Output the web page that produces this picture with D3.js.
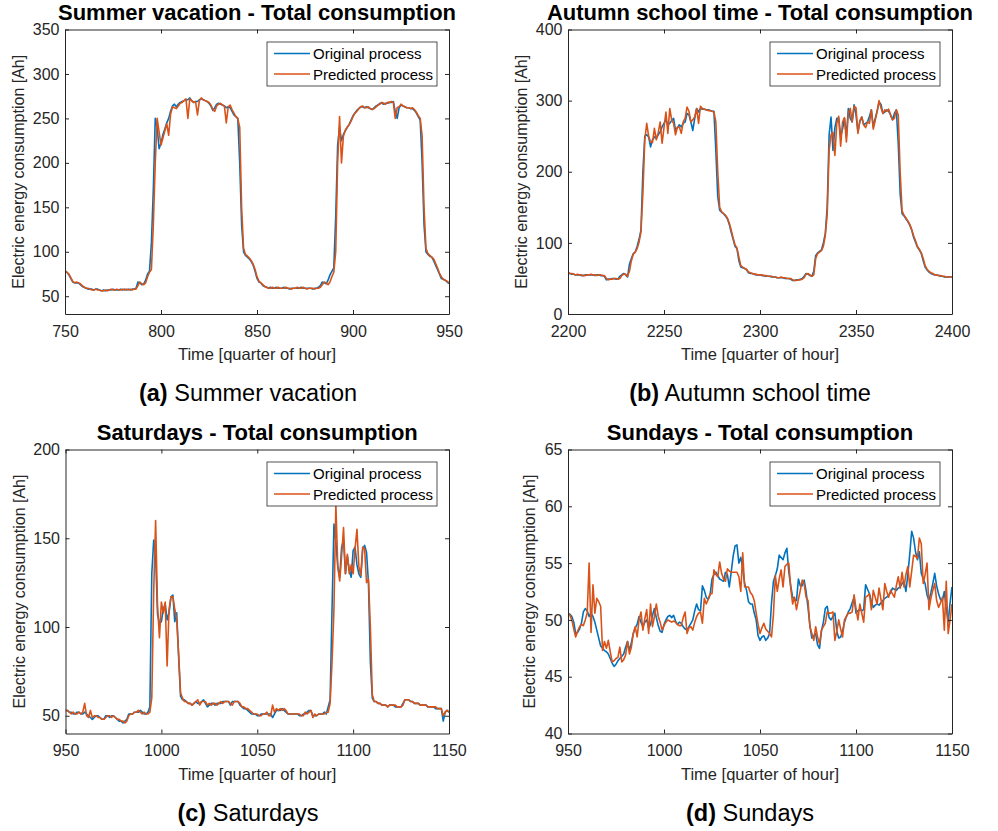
<!DOCTYPE html>
<html>
<head>
<meta charset="utf-8">
<script src="https://cdn.jsdelivr.net/npm/d3@7"></script>
<style>
  body { margin: 0; background: #fff; }
  svg { display: block; }
</style>
</head>
<body>
<svg id="chart" width="998" height="831"></svg>
<script>
// ---- Data: total consumption per quarter hour (one value per time step) ----
const summerStart = 750;
const summerOriginal = [
  78,77,74,70,66,65,65,65,63,61, 60,59,58,58,58,57,58,58,57,56,
  57,56,57,57,57,58,57,57,57,58, 57,58,57,58,57,58,58,59,66,65,
  63,64,68,75,78,110,170,250,240,216, 222,232,238,245,250,258,264,266,263,266,
  268,269,270,271,271,273,270,268,269,269, 271,272,271,270,269,267,264,259,262,266,
  267,266,265,264,262,263,262,258,254,252, 250,200,130,100,96,94,92,89,85,78,
  70,66,65,62,61,60,59,60,59,59, 60,59,59,59,60,59,59,58,59,59,
  59,59,59,60,59,59,59,59,59,58, 59,59,60,62,66,65,64,68,74,78,
  82,140,220,240,225,232,236,240,243,248, 253,256,259,261,263,263,262,263,262,261,
  260,262,264,265,267,267,266,267,267,268, 268,269,258,250,262,265,264,263,262,262,
  261,261,259,256,252,248,200,130,100,97, 95,94,90,85,80,75,70,69,68,66,
  64
];
const summerPredicted = [
  79,77,75,71,67,65,66,65,64,62, 60,59,59,58,57,57,58,57,57,56,
  56,57,56,57,58,57,57,58,57,57, 58,57,58,57,58,57,58,58,62,66,
  64,63,65,72,77,80,130,200,250,235, 220,228,236,244,231,255,263,262,261,264,
  267,268,270,272,250,272,270,268,269,254, 270,273,271,270,269,268,265,260,258,264,
  266,267,265,264,245,263,265,260,256,252, 250,240,150,104,97,95,93,90,86,80,
  72,67,65,63,61,60,59,59,60,59, 59,60,59,59,59,60,59,59,58,59,
  59,60,59,59,60,59,58,59,59,59, 58,59,59,60,63,66,65,63,66,72,
  77,100,200,252,200,230,237,240,243,247, 252,256,258,261,263,264,262,262,263,261,
  260,261,263,265,266,268,267,266,268,268, 269,268,250,262,263,266,264,263,262,262,
  261,262,260,257,253,250,230,150,104,98, 96,94,92,87,82,76,72,69,68,67,
  65
];

const autumnStart = 2200;
const autumnOriginal = [
  58,57,56,56,55,55,55,54,54,55, 55,55,55,55,54,55,55,54,54,53,
  48,49,49,50,50,49,49,53,55,57, 55,52,70,78,85,87,95,105,118,200,
  250,252,249,235,245,249,247,252,256,263, 268,273,266,268,272,275,258,262,266,263,
  268,270,282,280,270,258,275,289,284,289, 288,288,287,287,286,285,285,230,165,146,
  143,141,138,134,126,115,105,95,92,75, 66,65,64,62,58,57,57,56,55,55,
  55,54,54,53,53,53,52,52,52,51, 51,51,51,50,50,50,49,47,47,48,
  48,49,50,53,57,56,54,53,60,82, 86,88,90,100,113,150,252,277,230,262,
  275,275,250,260,275,250,289,275,270,294, 280,256,270,277,266,268,270,278,287,263,
  275,285,298,295,282,284,287,285,280,273, 282,287,240,169,141,138,134,130,125,118,
  108,101,94,90,85,75,66,62,59,57, 56,55,55,54,53,53,52,52,52,52,
  52
];
const autumnPredicted = [
  58,57,57,56,55,56,55,55,54,54, 55,55,56,55,55,54,55,55,54,54,
  50,48,49,49,50,50,49,50,54,56, 56,53,60,75,84,87,92,101,115,170,
  245,268,250,242,241,261,245,255,270,240, 262,284,254,289,273,268,252,263,263,254,
  270,275,291,285,270,273,277,289,268,292, 289,288,287,286,286,285,284,270,200,150,
  144,141,139,135,128,118,107,97,93,80, 68,66,64,63,59,58,57,56,56,55,
  55,55,54,54,53,53,53,52,52,51, 51,52,51,51,50,50,50,48,47,47,
  48,48,49,51,56,57,55,53,55,78, 85,87,89,95,110,140,230,252,255,223,
  268,278,236,270,276,242,282,289,270,292, 290,254,272,277,266,262,270,268,287,260,
  272,285,300,290,282,287,285,288,280,273, 275,287,280,200,145,139,135,131,126,119,
  110,103,95,91,86,78,68,63,60,58, 57,55,55,54,54,53,53,52,52,52,
  52
];

const saturdayStart = 950;
const saturdayOriginal = [
  53,53,52,52,51,51,52,52,51,51, 52,51,50,49,48,49,50,50,49,48,
  48,50,50,49,50,50,49,48,47,47, 46,47,48,51,51,51,52,52,52,53,
  52,51,51,52,55,130,149,140,107,102, 103,110,113,104,108,117,118,103,108,83,
  61,59,59,58,57,57,56,57,58,57, 57,58,59,57,55,56,57,57,56,57,
  57,57,58,58,58,58,56,58,58,58, 58,56,55,54,54,53,52,51,51,51,
  50,50,51,51,51,51,51,51,49,51, 53,53,53,54,53,52,51,51,51,51,
  51,51,50,50,51,51,52,53,53,50, 50,50,51,51,51,52,51,55,59,110,
  158,148,134,128,145,149,130,140,132,128, 143,145,135,130,128,144,146,142,125,80,
  60,58,58,57,57,56,56,56,55,56, 56,56,55,55,55,55,57,59,59,59,
  58,58,57,57,57,56,56,56,56,55, 55,55,55,54,54,54,54,47,52,53,
  52
];
const saturdayPredicted = [
  53,53,52,51,52,51,51,52,51,52, 57,50,49,53,49,50,50,49,49,48,
  48,49,50,50,49,50,49,48,48,47, 47,46,47,50,51,51,52,52,53,52,
  51,52,51,51,52,60,120,160,112,94, 114,108,114,78,110,117,117,110,104,85,
  63,60,58,58,57,57,56,57,58,59, 56,58,58,58,56,57,56,57,57,56,
  57,58,57,58,58,58,57,56,58,58, 58,57,55,55,54,54,53,52,51,51,
  51,50,50,51,51,52,50,50,56,52, 54,53,54,53,54,53,51,51,51,51,
  51,51,51,50,50,52,51,52,53,49, 51,50,51,51,51,51,52,52,57,80,
  110,169,134,126,140,156,130,141,130,135, 130,144,155,134,129,145,144,125,127,100,
  62,58,58,57,57,56,56,56,55,56, 56,56,56,55,55,55,56,59,59,59,
  58,58,57,57,57,56,56,56,56,55, 55,55,55,55,54,54,54,50,52,53,
  52
];

const sundayStart = 950;
const sundayOriginal = [
  50.6,50.5,50.3,49.8,48.8,48.9,49.2,49.7,50.7,51.0, 50.8,50.3,50.6,50.3,49.8,49.1,48.4,47.7,47.5,47.3,
  47.2,47.0,46.6,46.2,45.9,46.1,46.4,46.6,46.8,47.0, 47.6,48.1,47.3,48.0,48.8,49.3,49.6,50.3,49.8,49.4,
  49.8,50.0,49.3,49.6,50.4,51.0,50.2,49.5,49.0,48.9, 49.6,50.0,50.3,50.4,50.2,50.4,49.9,49.6,49.8,49.7,
  49.4,49.2,49.1,49.4,49.7,50.0,50.8,51.4,50.9,50.8, 53.0,52.6,52.0,51.8,52.2,53.6,54.0,54.2,53.9,53.6,
  53.5,53.4,54.2,54.0,52.9,54.2,55.6,56.5,56.6,55.0, 55.5,54.5,53.2,52.6,51.6,51.4,51.4,50.6,50.0,48.6,
  48.2,48.5,48.6,48.2,48.4,48.8,51.5,53.4,53.9,54.5, 55.7,55.5,55.3,55.9,56.3,54.2,53.0,52.0,51.8,51.7,
  53.6,53.0,53.0,53.5,52.5,51.1,49.5,48.4,48.6,48.8, 47.8,47.5,49.0,49.8,51.0,51.2,50.2,50.0,50.3,50.6,
  49.0,48.4,48.5,49.0,49.8,50.3,50.7,51.0,51.5,52.0, 50.6,50.8,50.9,50.8,50.9,53.1,52.7,52.3,51.6,51.1,
  51.3,51.4,51.3,51.5,51.7,51.9,52.0,52.2,52.4,52.8, 52.7,52.6,52.8,52.9,53.2,53.4,52.5,54.0,55.8,57.8,
  57.2,56.0,55.3,56.0,54.1,53.6,53.2,52.2,51.7,52.4, 53.2,54.1,53.0,52.3,51.8,51.7,52.5,51.0,49.8,51.5,
  52.9
];
const sundayPredicted = [
  50.6,50.4,50.0,49.2,48.5,49.0,49.4,49.6,49.5,50.0, 50.6,55.0,48.9,53.1,50.6,51.9,51.6,51.2,47.3,48.1,
  47.5,48.2,47.2,46.3,46.4,46.6,46.7,47.6,46.3,46.5, 46.9,48.1,47.0,47.6,48.8,49.4,48.5,50.0,50.7,49.1,
  50.1,50.9,48.8,51.4,49.4,50.3,51.4,50.3,49.8,49.1, 49.5,49.8,50.0,49.9,49.8,49.9,49.8,49.6,49.5,49.5,
  50.2,50.7,48.8,49.3,49.4,49.1,49.8,50.3,50.6,50.7, 49.7,51.9,51.4,51.8,52.3,52.3,54.4,54.0,53.8,55.1,
  54.1,53.6,53.4,54.5,54.3,54.2,54.2,54.2,54.2,53.8, 52.5,55.9,52.9,52.9,52.9,52.4,52.2,51.7,50.6,49.6,
  48.8,49.3,49.7,49.2,49.0,48.8,48.5,50.5,53.9,52.5, 53.6,54.4,52.9,54.7,54.9,55.0,52.8,51.4,52.0,50.9,
  51.8,52.6,53.5,53.2,52.0,51.7,49.4,48.8,48.2,49.4, 48.5,47.9,49.1,49.4,49.7,50.7,50.6,50.6,50.7,48.2,
  49.0,50.0,49.2,48.5,50.0,50.3,50.6,50.6,50.7,52.2, 51.0,50.0,51.4,50.6,49.8,52.0,52.1,52.3,50.9,52.6,
  52.0,51.4,52.8,51.8,50.9,53.2,52.5,52.0,52.6,52.3, 52.0,53.0,53.8,52.8,54.2,52.9,54.0,54.7,52.9,54.3,
  55.7,55.6,55.4,57.2,56.7,53.2,54.0,55.0,50.9,51.9, 52.6,53.2,51.7,51.1,51.5,52.0,49.1,53.4,48.8,50.0,
  51.4
];

// ---- Axis settings ----
const summerXDomain = [750, 950],   summerYDomain = [30, 350];
const autumnXDomain = [2200, 2400], autumnYDomain = [0, 400];
const saturdayXDomain = [950, 1150], saturdayYDomain = [40, 200];
const sundayXDomain = [950, 1150],  sundayYDomain = [40, 65];
const summerXTicks = [750, 800, 850, 900, 950];
const summerYTicks = [50, 100, 150, 200, 250, 300, 350];
const autumnXTicks = [2200, 2250, 2300, 2350, 2400];
const autumnYTicks = [0, 100, 200, 300, 400];
const saturdayXTicks = [950, 1000, 1050, 1100, 1150];
const saturdayYTicks = [50, 100, 150, 200];
const sundayXTicks = [950, 1000, 1050, 1100, 1150];
const sundayYTicks = [40, 45, 50, 55, 60, 65];

const seriesNames = ["Original process", "Predicted process"];
const seriesColors = ["#0072BD", "#D95319"];

// ---- Layout ----
const FONT = '"Liberation Sans", Arial, Helvetica, sans-serif';
const INK = "#262626";
const plainNumber = d3.format("d");

const panels = [
  { id: "a", title: "Summer vacation - Total consumption", caption: "Summer vacation",
    start: summerStart, series: [summerOriginal, summerPredicted],
    xDomain: summerXDomain, yDomain: summerYDomain, xTicks: summerXTicks, yTicks: summerYTicks,
    left: 65, right: 449, top: 29.5, bottom: 314, cx: 248, ylabelOff: 41 },
  { id: "b", title: "Autumn school time - Total consumption", caption: "Autumn school time",
    start: autumnStart, series: [autumnOriginal, autumnPredicted],
    xDomain: autumnXDomain, yDomain: autumnYDomain, xTicks: autumnXTicks, yTicks: autumnYTicks,
    left: 568, right: 952, top: 29.5, bottom: 314, cx: 750, ylabelOff: 41 },
  { id: "c", title: "Saturdays - Total consumption", caption: "Saturdays",
    start: saturdayStart, series: [saturdayOriginal, saturdayPredicted],
    xDomain: saturdayXDomain, yDomain: saturdayYDomain, xTicks: saturdayXTicks, yTicks: saturdayYTicks,
    left: 65.5, right: 449, top: 449.5, bottom: 733.5, cx: 248, ylabelOff: 41 },
  { id: "d", title: "Sundays - Total consumption", caption: "Sundays",
    start: sundayStart, series: [sundayOriginal, sundayPredicted],
    xDomain: sundayXDomain, yDomain: sundayYDomain, xTicks: sundayXTicks, yTicks: sundayYTicks,
    left: 568, right: 952, top: 449.5, bottom: 733.5, cx: 750, ylabelOff: 33 }
];

const svg = d3.select("#chart");

function styleAxis(g) {
  g.attr("font-family", FONT).attr("font-size", 16);
  g.selectAll(".domain").attr("stroke", INK).attr("stroke-width", 1);
  g.selectAll(".tick line").attr("stroke", INK).attr("stroke-width", 1);
  g.selectAll(".tick text").attr("fill", INK);
}

panels.forEach(p => {
  const g = svg.append("g");
  const x = d3.scaleLinear().domain(p.xDomain).range([p.left, p.right]);
  const y = d3.scaleLinear().domain(p.yDomain).range([p.bottom, p.top]);

  // clip the series to the plotting area
  const clipId = "clip-" + p.id;
  svg.append("defs").append("clipPath").attr("id", clipId)
    .append("rect").attr("x", p.left).attr("y", p.top)
    .attr("width", p.right - p.left).attr("height", p.bottom - p.top);

  const line = d3.line().x((d, i) => x(p.start + i)).y(d => y(d));
  const lines = g.append("g").attr("clip-path", `url(#${clipId})`);
  p.series.forEach((s, k) => {
    lines.append("path").datum(s)
      .attr("d", line).attr("fill", "none")
      .attr("stroke", seriesColors[k]).attr("stroke-width", 1.6)
      .attr("stroke-linejoin", "round");
  });

  // axes (ticks point inward, mirrored on top and right)
  g.append("g").attr("transform", `translate(0,${p.bottom})`)
    .call(d3.axisBottom(x).tickValues(p.xTicks).tickFormat(plainNumber)
      .tickSize(-4).tickSizeOuter(0).tickPadding(11.5))
    .call(styleAxis);
  g.append("g").attr("transform", `translate(0,${p.top})`)
    .call(d3.axisTop(x).tickValues(p.xTicks).tickSize(-4).tickSizeOuter(0).tickFormat(() => ""))
    .call(styleAxis);
  g.append("g").attr("transform", `translate(${p.left},0)`)
    .call(d3.axisLeft(y).tickValues(p.yTicks).tickFormat(plainNumber)
      .tickSize(-4).tickSizeOuter(0).tickPadding(5.5))
    .call(styleAxis);
  g.append("g").attr("transform", `translate(${p.right},0)`)
    .call(d3.axisRight(y).tickValues(p.yTicks).tickSize(-4).tickSizeOuter(0).tickFormat(() => ""))
    .call(styleAxis);

  // title
  g.append("text")
    .attr("x", (p.left + p.right) / 2).attr("y", p.top - 9.5)
    .attr("text-anchor", "middle").attr("font-family", FONT)
    .attr("font-size", 22).attr("font-weight", "bold").attr("fill", "#000")
    .text(p.title);

  // axis labels
  g.append("text")
    .attr("x", (p.left + p.right) / 2).attr("y", p.bottom + 46)
    .attr("text-anchor", "middle").attr("font-family", FONT)
    .attr("font-size", 16.5).attr("fill", INK)
    .text("Time [quarter of hour]");
  g.append("text")
    .attr("transform", `translate(${p.left - p.ylabelOff},${(p.top + p.bottom) / 2}) rotate(-90)`)
    .attr("text-anchor", "middle").attr("font-family", FONT)
    .attr("font-size", 16).attr("fill", INK)
    .text("Electric energy consumption [Ah]");

  // legend
  const lw = 170, lh = 44;
  const lx = p.right - 12 - lw, ly = p.top + 12.5;
  const leg = g.append("g").attr("transform", `translate(${lx},${ly})`);
  leg.append("rect").attr("width", lw).attr("height", lh)
    .attr("fill", "#fff").attr("stroke", INK).attr("stroke-width", 0.8);
  seriesNames.forEach((name, k) => {
    const ry = 11.5 + k * 20.5;
    leg.append("line").attr("x1", 7).attr("x2", 43).attr("y1", ry).attr("y2", ry)
      .attr("stroke", seriesColors[k]).attr("stroke-width", 1.6);
    leg.append("text").attr("x", 46).attr("y", ry + 5.5)
      .attr("font-family", FONT).attr("font-size", 15).attr("fill", "#000")
      .text(name);
  });

  // sub-figure caption
  const cap = svg.append("text")
    .attr("x", p.cx).attr("y", p.bottom + 87)
    .attr("text-anchor", "middle").attr("font-family", FONT)
    .attr("font-size", 23.5).attr("fill", "#000");
  cap.append("tspan").attr("font-weight", "bold").text(`(${p.id})`);
  cap.append("tspan").text(" " + p.caption);
});
</script>
</body>
</html>
